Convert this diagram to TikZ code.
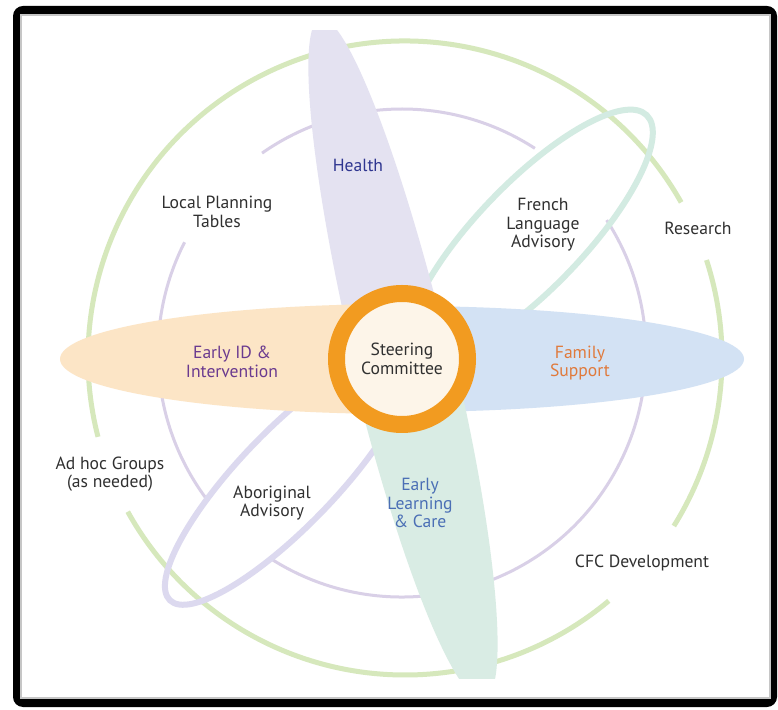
\documentclass[tikz,border=0pt]{standalone}
\usepackage{fontspec}
\setmainfont{PT Sans}
\usetikzlibrary{positioning}
\definecolor{cRingGreen}{HTML}{D6E8BC}
\definecolor{cRingPurple}{HTML}{D9D0E7}
\definecolor{cTeal}{HTML}{D3EBE2}
\definecolor{cLilac}{HTML}{DCD9EF}
\definecolor{cHealth}{HTML}{E4E2F1}
\definecolor{cEarlyID}{HTML}{FCE5C6}
\definecolor{cFamily}{HTML}{D3E2F4}
\definecolor{cELC}{HTML}{D9ECE4}
\definecolor{cOrange}{HTML}{F29B20}
\definecolor{cCream}{HTML}{FDF5E9}
\definecolor{cText}{HTML}{303030}
\definecolor{cHealthTxt}{HTML}{2E3590}
\definecolor{cEarlyTxt}{HTML}{6A3A8F}
\definecolor{cFamilyTxt}{HTML}{E07A3C}
\definecolor{cELCTxt}{HTML}{4B6FB5}
\tikzset{
	lbl/.style      ={align=center, text=cText, font=\fontsize{17.6}{18.5}\selectfont, inner sep=1pt},
	greenarc/.style ={draw=cRingGreen, line width=5pt},
	purplearc/.style={draw=cRingPurple, line width=3pt},
	advring/.style  ={line width=6pt},
	steerring/.style={circle, draw=cOrange, line width=17pt, fill=cCream, minimum size=131pt, inner sep=0pt, align=center, text=cText, font=\fontsize{17.6}{18.5}\selectfont},
}
\begin{document}
\begin{tikzpicture}[x=1pt, y=1pt]
	\useasboundingbox (0,0) rectangle (778,709);
	% frame
	\fill[black, rounded corners=10pt] (13,2) rectangle (777,703);
	\fill[white, draw=gray!45, line width=1.5pt] (21,11) rectangle (770,694);
	\coordinate (O) at (402,350);
	\coordinate (G) at (405,351);
	\coordinate (P) at (402,356);
	% outer and inner rings, broken for the labels
	\foreach \a/\b in {29.4/194.4, 209/310, 328/378}
		\draw[greenarc] (G) ++(\a:317) arc[start angle=\a, end angle=\b, radius=317pt];
	\foreach \a/\b in {57/125, 153/217, 237/393}
		\draw[purplearc] (P) ++(\a:244) arc[start angle=\a, end angle=\b, radius=244pt];
	% advisory loops
	\draw[advring, draw=cTeal, rotate around={46:(530,473)}] (530,473) ellipse [x radius=168pt, y radius=53pt];
	\draw[advring, draw=cLilac, rotate around={46:(288,231)}] (288,231) ellipse [x radius=170pt, y radius=48pt];
	% petals
	\begin{scope}
		\clip (0,31) rectangle (778,678);
		\begin{scope}[shift={(O)}, rotate=13.5]
			\clip (-200,0) rectangle (200,400);
			\fill[cHealth] (0,0) ellipse [x radius=47pt, y radius=350pt];
		\end{scope}
		\begin{scope}[shift={(O)}]
			\clip (-400,-100) rectangle (0,100);
			\fill[cEarlyID] (0,0) ellipse [x radius=342pt, y radius=55pt];
		\end{scope}
		\begin{scope}[shift={(O)}]
			\clip (0,-100) rectangle (400,100);
			\fill[cFamily] (0,0) ellipse [x radius=342pt, y radius=53pt];
		\end{scope}
		\begin{scope}[shift={(O)}, rotate=13.5]
			\clip (-200,0) rectangle (200,-400);
			\fill[cELC] (0,0) ellipse [x radius=51pt, y radius=350pt];
		\end{scope}
	\end{scope}
	\node[steerring] (steer) at (O) {Steering\\Committee};
	% labels
	\node[lbl, text=cHealthTxt] (health) at (358,544) {Health};
	\node[lbl, text=cEarlyTxt] (earlyid) at (232,347) {Early ID \&\\Intervention};
	\node[lbl, text=cFamilyTxt] (family) at (580,346) {Family\\Support};
	\node[lbl, text=cELCTxt] (elc) at (420,206) {Early\\Learning\\\& Care};
	\node[lbl] (lpt) at (217,497) {Local Planning\\Tables};
	\node[lbl] (french) at (543,484) {French\\Language\\Advisory};
	\node[lbl] (research) at (698,481) {Research};
	\node[lbl] (adhoc) at (110,235) {Ad hoc Groups\\(as needed)};
	\node[lbl] (aborig) at (272,206) {Aboriginal\\Advisory};
	\node[lbl] (cfc) at (642,146) {CFC Development};
\end{tikzpicture}
\end{document}
